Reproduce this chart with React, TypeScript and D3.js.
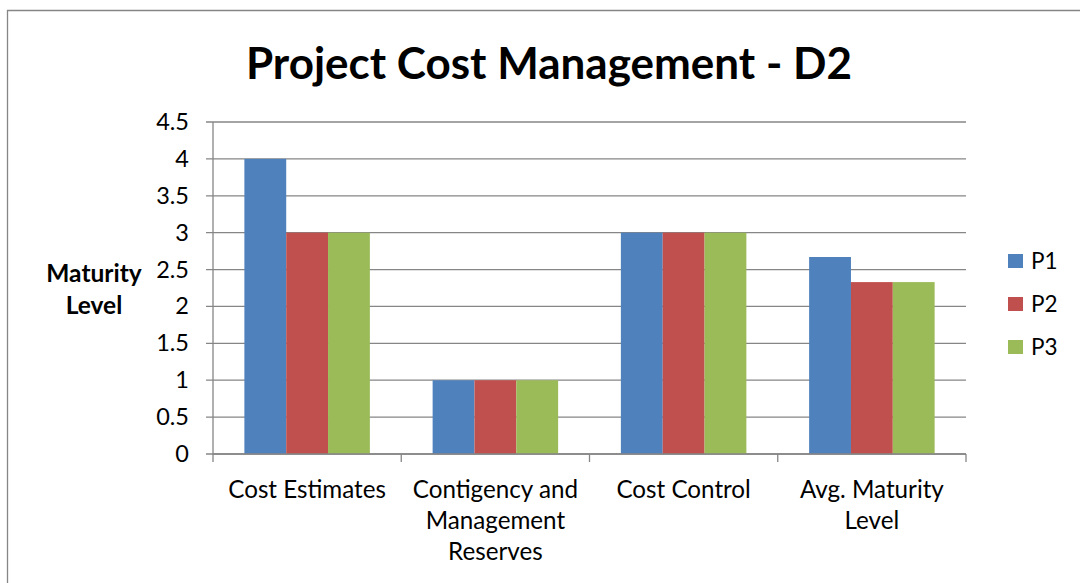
import React from "react";
import * as d3 from "d3";

const categories: string[][] = [
  ["Cost Estimates"],
  ["Contigency and", "Management", "Reserves"],
  ["Cost Control"],
  ["Avg. Maturity", "Level"],
];
const seriesNames = ["P1", "P2", "P3"];
const p1 = [4, 1, 3, 2.67];
const p2 = [3, 1, 3, 2.33];
const p3 = [3, 1, 3, 2.33];
const yTicks = [0, 0.5, 1, 1.5, 2, 2.5, 3, 3.5, 4, 4.5];
const colors = ["#4F81BD", "#C0504D", "#9BBB59"];
const title = "Project Cost Management - D2";
const yLabel = ["Maturity", "Level"];

const W = 1080;
const H = 583;
const FONT = "Lato, 'Open Sans', sans-serif";

export default function App() {
  const left = 213, right = 966, top = 122, bottom = 454;
  const x = d3.scaleBand<number>().domain(d3.range(categories.length)).range([left, right]);
  const y = d3.scaleLinear().domain([0, 4.5]).range([bottom, top]);
  const values = [p1, p2, p3];
  const step = x.step();
  const barW = step / (3 + 1.5);
  const grid = "#868686";

  return (
    <svg width={W} height={H} style={{ position: "absolute", left: 0, top: 0, background: "#fff" }} fontFamily={FONT}>
      <rect x={0} y={0} width={W} height={H} fill="#fff" />
      <path d={`M7.5,${H}V10.5H${W}`} fill="none" stroke={grid} strokeWidth={1.3} />
      <text x={549} y={79} textAnchor="middle" fontSize={44} fontWeight="bold" fill="#000">{title}</text>
      {yTicks.map((t) => (
        <g key={t}>
          <line x1={206} x2={right} y1={y(t)} y2={y(t)} stroke={grid} strokeWidth={1.3} />
          <text x={189} y={y(t) + 8} textAnchor="end" fontSize={23.5} fill="#000">{t}</text>
        </g>
      ))}
      {categories.map((c, i) => (
        <g key={i}>
          {values.map((vals, s) => (
            <rect
              key={s}
              x={(x(i) as number) + barW * 0.75 + s * barW}
              y={y(vals[i])}
              width={barW}
              height={bottom - y(vals[i])}
              fill={colors[s]}
            />
          ))}
          {c.map((line, k) => (
            <text key={k} x={(x(i) as number) + step / 2} y={498 + k * 31} textAnchor="middle" fontSize={24.2} fill="#000">{line}</text>
          ))}
        </g>
      ))}
      <line x1={left} x2={left} y1={top} y2={bottom} stroke={grid} strokeWidth={1.3} />
      <line x1={left} x2={right} y1={bottom} y2={bottom} stroke={grid} strokeWidth={1.3} />
      {d3.range(categories.length + 1).map((i) => (
        <line key={i} x1={left + i * step} x2={left + i * step} y1={bottom} y2={462} stroke={grid} strokeWidth={1.3} />
      ))}
      {yLabel.map((l, k) => (
        <text key={k} x={94} y={282 + k * 32} textAnchor="middle" fontSize={24.5} fontWeight="bold" fill="#000">{l}</text>
      ))}
      {seriesNames.map((n, s) => (
        <g key={n}>
          <rect x={1008} y={254 + s * 43} width={15} height={14} fill={colors[s]} />
          <text x={1031} y={269 + s * 43} fontSize={22.5} fill="#000">{n}</text>
        </g>
      ))}
    </svg>
  );
}
